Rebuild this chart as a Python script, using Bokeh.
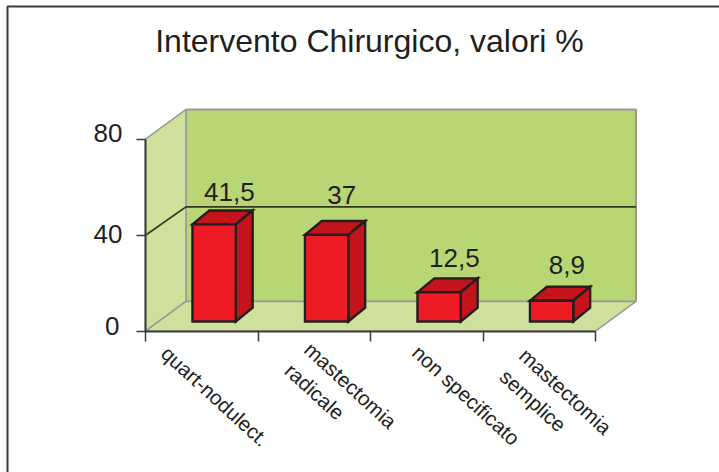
from bokeh.plotting import figure
from bokeh.embed import file_html
from bokeh.resources import INLINE
from bokeh.models import Range1d, LinearAxis, FixedTicker
from bokeh.core.properties import value

categories = ["quart-nodulect.", "mastectomia\nradicale", "non specificato", "mastectomia\nsemplice"]
values = [41.5, 37, 12.5, 8.9]
value_labels = ["41,5", "37", "12,5", "8,9"]
y_ticks = [0, 40, 80]
y_tick_labels = ["0", "40", "80"]
title = "Intervento Chirurgico, valori %"

W, H = 719, 472
PX_CAT, PX_UNIT = 112.5, 2.4      # pixels per category, pixels per percent
X0, Y0 = 145, 330.7               # page pixel of the front corner of the floor


def px_x(px):
    return (px - X0) / PX_CAT


def px_y(px):
    return (Y0 - px) / PX_UNIT


p = figure(width=W, height=H, output_backend="svg", toolbar_location=None,
           x_range=Range1d(px_x(0), px_x(W)), y_range=Range1d(px_y(H), px_y(0)),
           min_border=0, x_axis_type=None, y_axis_type=None,
           outline_line_color=None,
           background_fill_color="white", border_fill_color="white")
p.grid.visible = False

INK = "#231f20"
FONT = value("Liberation Sans")
WALL, SIDE = "#b9d675", "#cee09c"
EDGE = "#9a9a96"
n = len(categories)
top = y_ticks[-1]
DX, DY = 0.36, 12.4               # depth of the box
GRID_DY = 11.8
BX, BY = 0.11, 4.04               # depth position of the bars' front face
BW, BDX, BDY = 0.385, 0.15, 5.8   # bar width and depth
BAR_SCALE = 0.975
VALUE_OFFSETS = [-18, -26, -20, -22]

# page frame (top and left rules)
p.line([px_x(7), px_x(7), px_x(W)], [px_y(H), px_y(6), px_y(6)], line_color="#3c3c3c", line_width=2)

# box walls and floor
p.patch([DX, DX + n, DX + n, DX], [DY, DY, top + DY, top + DY], fill_color=WALL, line_color=EDGE, line_width=2)
p.patch([0, DX, DX, 0], [0, DY, top + DY, top], fill_color=SIDE, line_color=EDGE, line_width=1.5)
p.patch([0, DX, DX + n, n], [0, DY, DY, 0], fill_color=SIDE, line_color=EDGE, line_width=1.5)

# gridline at 40 on the side and back walls
for t in y_ticks[1:-1]:
    p.line([0, DX, DX + n], [t, t + GRID_DY, t + GRID_DY], line_color="#2f3a20", line_width=1.8)

# 3D bars
for i, v in enumerate(values):
    l = i + 0.5 - BW / 2 + BX
    r = l + BW
    b = BY
    t = BY + v * BAR_SCALE
    p.patch([l, r, r + BDX, l + BDX], [t, t, t + BDY, t + BDY], fill_color="#c4141b", line_color=INK, line_width=2.4, line_join="miter")
    p.patch([r, r + BDX, r + BDX, r], [b, b + BDY, t + BDY, t], fill_color="#c4141b", line_color=INK, line_width=2.4, line_join="miter")
    p.patch([l, r, r, l], [b, b, t, t], fill_color="#ed1c24", line_color=INK, line_width=2.4, line_join="miter")
    p.text([(l + r) / 2 + BDX * 0.9], [t + BDY], text=[value_labels[i]], text_font=FONT, text_font_size="26px",
           text_color=INK, text_align="center", text_baseline="alphabetic", y_offset=VALUE_OFFSETS[i])

# axes
yax = LinearAxis(ticker=FixedTicker(ticks=y_ticks), fixed_location=0, bounds=(0, top),
                 axis_line_color="#3a3a3a", axis_line_width=2,
                 major_tick_line_color="#3a3a3a", major_tick_line_width=1.5,
                 major_tick_in=0, major_tick_out=9, minor_tick_line_color=None,
                 major_label_text_font_size="0px", major_label_text_color=None)
p.add_layout(yax, "left")
xax = LinearAxis(ticker=FixedTicker(ticks=list(range(n + 1))), fixed_location=0, bounds=(0, n),
                 axis_line_color="#3a3a3a", axis_line_width=2,
                 major_tick_line_color="#3a3a3a", major_tick_line_width=1.5,
                 major_tick_in=0, major_tick_out=10, minor_tick_line_color=None,
                 major_label_text_font_size="0px", major_label_text_color=None)
p.add_layout(xax, "below")

# y tick labels
p.text([px_x(119), px_x(122), px_x(122)], y_ticks, text=y_tick_labels, text_font=FONT, text_font_size="26px",
       text_color=INK, text_align="right", text_baseline="middle", y_offset=[-5, -1, -6])

# category labels, rotated
ANGLE = -0.74
label_x = [px_x(172), px_x(315), px_x(423), px_x(530)]
label_y = [px_y(341), px_y(337), px_y(340), px_y(343)]
p.text(label_x, label_y, text=categories, angle=ANGLE, text_font=FONT, text_font_size="20.5px",
       text_color=INK, text_align="left", text_baseline="top", text_line_height=1.25)

# title
p.text([px_x(369)], [px_y(40)], text=[title], text_font=FONT, text_font_size="32px",
       text_color=INK, text_align="center", text_baseline="alphabetic")

open("out.html", "w").write(file_html(p, INLINE))
